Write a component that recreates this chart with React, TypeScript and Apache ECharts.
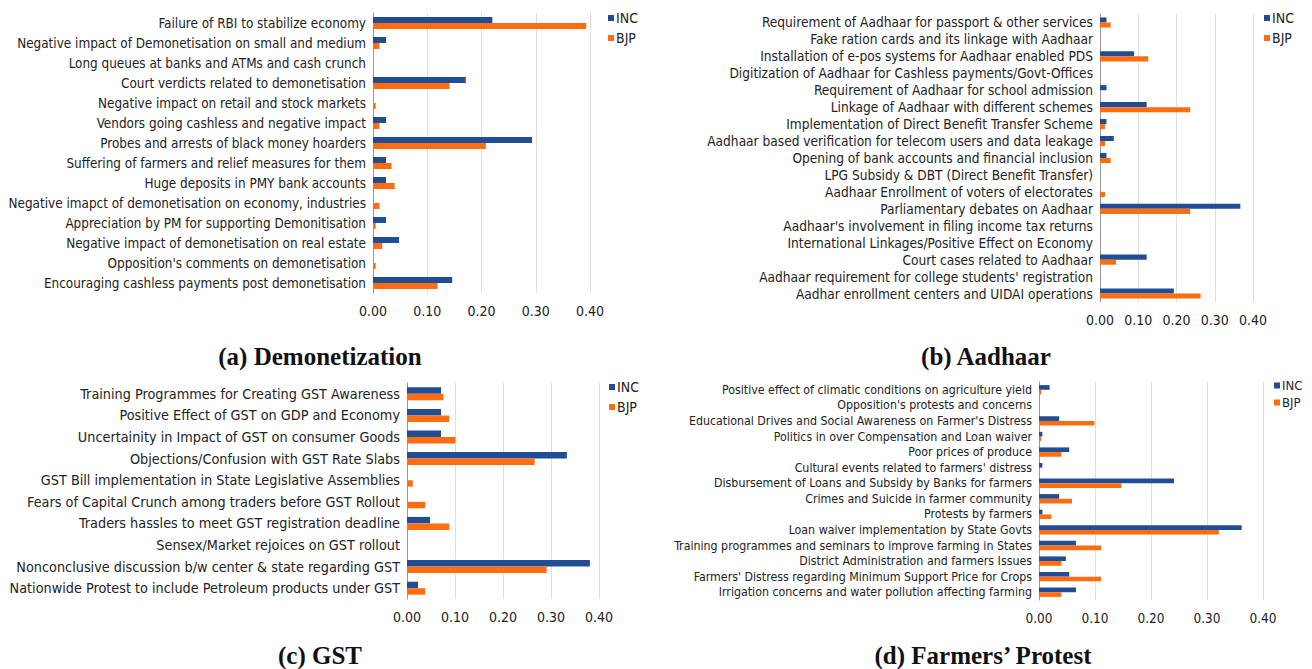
import React, { useEffect, useRef } from "react";
import * as echarts from "echarts";

const demoCategories = [
  "Failure of RBI to stabilize economy",
  "Negative impact of Demonetisation on small and medium",
  "Long queues at banks and ATMs and cash crunch",
  "Court verdicts related to demonetisation",
  "Negative impact on retail and stock markets",
  "Vendors going cashless and negative impact",
  "Probes and arrests of black money hoarders",
  "Suffering of farmers and relief measures for them",
  "Huge deposits in PMY bank accounts",
  "Negative imapct of demonetisation on economy, industries",
  "Appreciation by PM for supporting Demonitisation",
  "Negative impact of demonetisation on real estate",
  "Opposition's comments on demonetisation",
  "Encouraging cashless payments post demonetisation",
];
const demoINC = [0.22, 0.024, 0, 0.171, 0, 0.024, 0.293, 0.024, 0.024, 0, 0.024, 0.048, 0, 0.146];
const demoBJP = [0.393, 0.012, 0, 0.141, 0.005, 0.012, 0.208, 0.034, 0.04, 0.012, 0.005, 0.017, 0.005, 0.119];

const aadhaarCategories = [
  "Requirement of Aadhaar for passport & other services",
  "Fake ration cards and its linkage with Aadhaar",
  "Installation of e-pos systems for Aadhaar enabled PDS",
  "Digitization of Aadhaar for Cashless payments/Govt-Offices",
  "Requirement of Aadhaar for school admission",
  "Linkage of Aadhaar with different schemes",
  "Implementation of Direct Benefit Transfer Scheme",
  "Aadhaar based verification for telecom users and data leakage",
  "Opening of bank accounts and financial inclusion",
  "LPG Subsidy & DBT (Direct Benefit Transfer)",
  "Aadhaar Enrollment of voters of electorates",
  "Parliamentary debates on Aadhaar",
  "Aadhaar's involvement in filing income tax returns",
  "International Linkages/Positive Effect on Economy",
  "Court cases related to Aadhaar",
  "Aadhaar requirement for college students' registration",
  "Aadhar enrollment centers and UIDAI operations",
];
const aadhaarINC = [0.017, 0, 0.089, 0, 0.017, 0.122, 0.017, 0.036, 0.017, 0, 0, 0.367, 0, 0, 0.122, 0, 0.193];
const aadhaarBJP = [0.028, 0, 0.126, 0, 0, 0.236, 0.013, 0.013, 0.028, 0, 0.013, 0.236, 0, 0, 0.042, 0, 0.263];

const gstCategories = [
  "Training Programmes for Creating GST Awareness",
  "Positive Effect of GST on GDP and Economy",
  "Uncertainity in Impact of GST on consumer Goods",
  "Objections/Confusion with GST Rate Slabs",
  "GST Bill implementation in State Legislative Assemblies",
  "Fears of Capital Crunch among traders before GST Rollout",
  "Traders hassles to meet GST registration deadline",
  "Sensex/Market rejoices on GST rollout",
  "Nonconclusive discussion b/w center & state regarding GST",
  "Nationwide Protest to include Petroleum products under GST",
];
const gstINC = [0.071, 0.071, 0.071, 0.333, 0, 0, 0.048, 0, 0.381, 0.023];
const gstBJP = [0.076, 0.088, 0.101, 0.266, 0.012, 0.038, 0.088, 0, 0.291, 0.038];

const farmCategories = [
  "Positive effect of climatic conditions on agriculture yield",
  "Opposition's protests and concerns",
  "Educational Drives and Social Awareness on Farmer's Distress",
  "Politics in over Compensation and Loan waiver",
  "Poor prices of produce",
  "Cultural events related to farmers' distress",
  "Disbursement of Loans and Subsidy by Banks for farmers",
  "Crimes and Suicide in farmer community",
  "Protests by farmers",
  "Loan waiver implementation by State Govts",
  "Training programmes and seminars to improve farming in States",
  "District Administration and farmers Issues",
  "Farmers' Distress regarding Minimum Support Price for Crops",
  "Irrigation concerns and water pollution affecting farming",
];
const farmINC = [0.019, 0, 0.036, 0.006, 0.054, 0.006, 0.241, 0.036, 0.006, 0.362, 0.066, 0.048, 0.054, 0.066];
const farmBJP = [0.004, 0, 0.099, 0.004, 0.04, 0, 0.147, 0.059, 0.022, 0.321, 0.111, 0.04, 0.111, 0.04];

const seriesNames = ["INC", "BJP"];
const captions = ["(a) Demonetization", "(b) Aadhaar", "(c) GST", "(d) Farmers\u2019 Protest"];
const xMax = 0.4;
const xStep = 0.1;

const INC_COLOR = "#204d93";
const BJP_COLOR = "#ff6d12";
const LABEL_FONT = "'DejaVu Sans Condensed', 'Liberation Sans Narrow', Roboto, sans-serif";

export default function App() {
  const ref = useRef<HTMLDivElement>(null);
  useEffect(() => {
    document.body.style.margin = "0";
    const chart = echarts.init(ref.current!, null, { renderer: "svg" });
    const panels = [
      { cats: demoCategories, inc: demoINC, bjp: demoBJP, grid: { left: 373, top: 13, width: 217, height: 280 }, fs: 13.4, tickFs: 14, legend: { left: 608, top: 11, gap: 6, fs: 14 } },
      { cats: aadhaarCategories, inc: aadhaarINC, bjp: aadhaarBJP, grid: { left: 1100, top: 14, width: 153, height: 288 }, fs: 13.6, tickFs: 14, legend: { left: 1264, top: 11, gap: 6, fs: 14 } },
      { cats: gstCategories, inc: gstINC, bjp: gstBJP, grid: { left: 407, top: 383, width: 192, height: 216 }, fs: 14.3, tickFs: 14, legend: { left: 609, top: 380, gap: 6, fs: 14 } },
      { cats: farmCategories, inc: farmINC, bjp: farmBJP, grid: { left: 1039, top: 382, width: 224, height: 218 }, fs: 12.3, tickFs: 13.5, legend: { left: 1274, top: 379, gap: 4, fs: 13 } },
    ];
    const grid: any[] = [];
    const xAxis: any[] = [];
    const yAxis: any[] = [];
    const series: any[] = [];
    const legend: any[] = [];
    panels.forEach((p, i) => {
      grid.push({ ...p.grid, containLabel: false, outerBoundsMode: "none" });
      xAxis.push({
        type: "value",
        gridIndex: i,
        min: 0,
        max: xMax,
        interval: xStep,
        axisLine: { show: false },
        axisTick: { show: false },
        splitLine: { lineStyle: { color: "#dedede", width: 1 } },
        axisLabel: {
          formatter: (v: number) => v.toFixed(2),
          fontFamily: LABEL_FONT,
          fontSize: p.tickFs,
          color: "#222",
          margin: 11,
        },
      });
      yAxis.push({
        type: "category",
        gridIndex: i,
        data: p.cats,
        inverse: true,
        axisTick: { show: false },
        axisLine: { lineStyle: { color: "#9a9a9a", width: 1 } },
        axisLabel: { interval: 0, fontFamily: LABEL_FONT, fontSize: p.fs, color: "#222", margin: 7 },
      });
      series.push({
        type: "bar",
        name: seriesNames[0],
        xAxisIndex: i,
        yAxisIndex: i,
        data: p.inc,
        itemStyle: { color: INC_COLOR },
        barCategoryGap: "40%",
        barGap: "0%",
      });
      series.push({
        type: "bar",
        name: seriesNames[1],
        xAxisIndex: i,
        yAxisIndex: i,
        data: p.bjp,
        itemStyle: { color: BJP_COLOR },
        barCategoryGap: "40%",
        barGap: "0%",
      });
      legend.push({
        data: seriesNames,
        orient: "vertical",
        left: p.legend.left,
        top: p.legend.top,
        itemGap: p.legend.gap,
        itemWidth: 6,
        itemHeight: 6,
        icon: "rect",
        padding: 0,
        selectedMode: false,
        textStyle: { fontFamily: LABEL_FONT, fontSize: p.legend.fs, lineHeight: p.legend.fs, color: "#222", padding: [0, 0, 0, -3] },
      });
    });
    const capPos = [
      { x: 320, y: 356 },
      { x: 986, y: 356 },
      { x: 320, y: 655 },
      { x: 983, y: 655 },
    ];
    const graphic = captions.map((c, i) => ({
      type: "text",
      x: capPos[i].x,
      y: capPos[i].y,
      style: {
        text: c,
        fontFamily: "'Liberation Serif', 'DejaVu Serif', serif",
        fontWeight: "bold",
        fontSize: 25,
        fill: "#111",
        align: "center",
        verticalAlign: "middle",
      },
    }));
    chart.setOption({
      animation: false,
      backgroundColor: "#ffffff",
      grid,
      xAxis,
      yAxis,
      series,
      legend,
      graphic,
    });
    return () => chart.dispose();
  }, []);
  return <div ref={ref} style={{ width: 1312, height: 669 }} />;
}
